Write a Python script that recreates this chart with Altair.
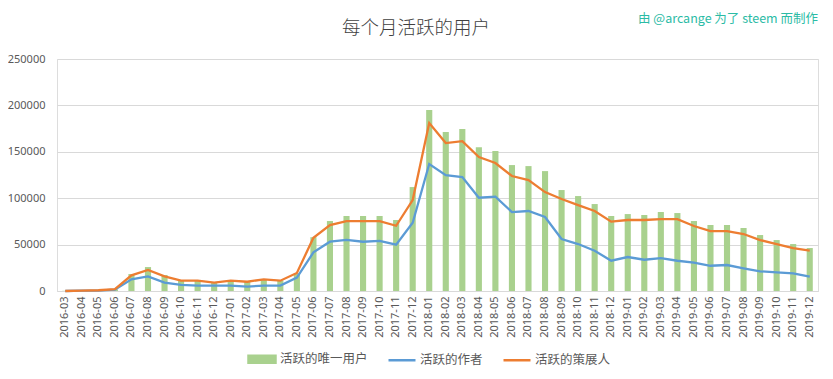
import altair as alt
import pandas as pd

months = [
    "2016-03", "2016-04", "2016-05", "2016-06", "2016-07", "2016-08", "2016-09", "2016-10",
    "2016-11", "2016-12", "2017-01", "2017-02", "2017-03", "2017-04", "2017-05", "2017-06",
    "2017-07", "2017-08", "2017-09", "2017-10", "2017-11", "2017-12", "2018-01", "2018-02",
    "2018-03", "2018-04", "2018-05", "2018-06", "2018-07", "2018-08", "2018-09", "2018-10",
    "2018-11", "2018-12", "2019-01", "2019-02", "2019-03", "2019-04", "2019-05", "2019-06",
    "2019-07", "2019-08", "2019-09", "2019-10", "2019-11", "2019-12",
]

unique_users = [
    200, 600, 900, 1800, 18300, 25800, 17200, 11100,
    11100, 9000, 10800, 10000, 11800, 11100, 19000, 58000,
    75400, 80800, 80800, 80800, 76500, 112000, 195000, 171300,
    174500, 155000, 150800, 135700, 134600, 129200, 108800, 102300,
    93700, 80800, 82900, 81900, 85100, 84000, 75400, 71100,
    71100, 67900, 60300, 54900, 50600, 46300,
]

authors = [
    0, 300, 500, 1500, 12600, 15800, 9000, 6500,
    5800, 5800, 5800, 4700, 5800, 5800, 14400, 41600,
    53100, 55000, 53100, 54000, 49900, 73600, 136800, 124900,
    122800, 100500, 101600, 85100, 86200, 79700, 56000, 50600,
    43400, 32600, 36600, 33700, 35500, 32600, 30500, 27200,
    28000, 24400, 21200, 20100, 19000, 15400,
]

curators = [
    0, 500, 800, 2000, 16900, 22600, 15800, 11100,
    11100, 9000, 11100, 10000, 12600, 11100, 19400, 57400,
    71100, 75400, 75400, 75400, 70300, 98000, 181000, 159400,
    161500, 144300, 137900, 123900, 119500, 106600, 99100, 92600,
    86200, 74700, 76500, 76500, 77500, 77500, 70000, 64600,
    64600, 61400, 54900, 50600, 46300, 43400,
]

series_names = ["活跃的唯一用户", "活跃的作者", "活跃的策展人"]
series_colors = ["#A9D18E", "#5B9BD5", "#ED7D31"]
y_ticks = [0, 50000, 100000, 150000, 200000, 250000]
title_text = "每个月活跃的用户"
note_text = "由 @arcange 为了 steem 而制作"

rows = []
for name, vals in zip(series_names, [unique_users, authors, curators]):
    for m, v in zip(months, vals):
        rows.append({"month": m, "series": name, "value": v})
df = pd.DataFrame(rows)

cjk = "Noto Sans CJK SC"
grey = "#595959"
first = series_names[0]

color = alt.Color(
    "series:N",
    scale=alt.Scale(domain=series_names, range=series_colors),
    legend=alt.Legend(
        orient="none",
        legendX=190,
        legendY=285,
        direction="horizontal",
        title=None,
        symbolSize=729,
        symbolType={"expr": f"datum.value === '{first}' ? 'M-1,-0.26H1V0.26H-1Z' : 'stroke'"},
        symbolFillColor={"expr": f"datum.value === '{first}' ? '#A9D18E' : 'transparent'"},
        symbolStrokeColor={"expr": f"datum.value === '{first}' ? 'transparent' : (datum.value === '活跃的作者' ? '#5B9BD5' : '#ED7D31')"},
        symbolStrokeWidth=2.5,
        labelFontSize=12.5,
        labelFont=cjk,
        labelColor=grey,
        labelOffset=3,
        columnPadding=15,
    ),
)

x_enc = alt.X(
    "month:N",
    sort=months,
    scale=alt.Scale(paddingInner=0.63, paddingOuter=0.315),
    axis=alt.Axis(
        title=None,
        labelAngle=270,
        labelFontSize=11,
        labelFont="Noto Sans",
        labelColor=grey,
        ticks=False,
        domainColor="#D9D9D9",
        labelPadding=5,
        grid=False,
    ),
)

y_enc = alt.Y(
    "value:Q",
    scale=alt.Scale(domain=[0, 250000], nice=False),
    axis=alt.Axis(
        title=None,
        values=y_ticks,
        format="d",
        labelFontSize=11,
        labelFont="Noto Sans",
        labelColor=grey,
        ticks=False,
        domain=False,
        gridColor="#D9D9D9",
        labelPadding=12,
    ),
)

bars = alt.Chart(df).transform_filter(
    alt.datum.series == first
).mark_bar().encode(x=x_enc, y=y_enc, color=color)

lines = alt.Chart(df).transform_filter(
    alt.datum.series != first
).mark_line(strokeWidth=2.3).encode(x=x_enc, y=y_enc, color=color, detail="series:N")

note = alt.Chart(pd.DataFrame({"t": [note_text]})).mark_text(
    align="right", baseline="middle", font=cjk, fontSize=12.5, color="#2BBBA5"
).encode(x=alt.value(761), y=alt.value(-40), text="t:N")

title = alt.Chart(pd.DataFrame({"t": [title_text]})).mark_text(
    align="center", baseline="middle", font=cjk, fontSize=18.5, fontWeight=300, color="#404040"
).encode(x=alt.value(359), y=alt.value(-31), text="t:N")

chart = alt.layer(bars, lines, note, title).properties(
    width=761,
    height=232,
    autosize=alt.AutoSizeParams(type="none"),
    padding={"left": 49, "top": 51, "right": 7, "bottom": 80},
).configure_view(stroke=None).configure(background="white")

chart.save("out.html", embed_options={"renderer": "svg", "actions": False})
